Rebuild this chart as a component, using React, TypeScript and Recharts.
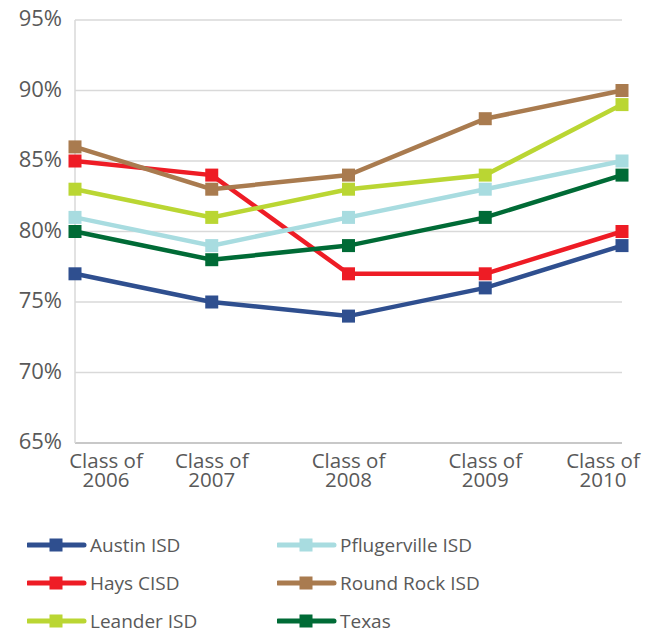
import React from "react";
import { LineChart, Line, XAxis, YAxis, CartesianGrid, Legend } from "recharts";

const categories = ["Class of 2006", "Class of 2007", "Class of 2008", "Class of 2009", "Class of 2010"];
const austin = [77, 75, 74, 76, 79];
const hays = [85, 84, 77, 77, 80];
const leander = [83, 81, 83, 84, 89];
const pflugerville = [81, 79, 81, 83, 85];
const roundRock = [86, 83, 84, 88, 90];
const texas = [80, 78, 79, 81, 84];
const yTicks = [65, 70, 75, 80, 85, 90, 95];

const series = [
  { key: "austin", name: "Austin ISD", color: "#2F4F8F", values: austin },
  { key: "hays", name: "Hays CISD", color: "#EE1C25", values: hays },
  { key: "leander", name: "Leander ISD", color: "#BAD633", values: leander },
  { key: "pflugerville", name: "Pflugerville ISD", color: "#A8DCE0", values: pflugerville },
  { key: "roundRock", name: "Round Rock ISD", color: "#A97B4F", values: roundRock },
  { key: "texas", name: "Texas", color: "#006B36", values: texas },
];

const data = categories.map((c, i) => {
  const row: any = { cat: c };
  series.forEach((s) => (row[s.key] = s.values[i]));
  return row;
});

const FONT = "'Open Sans', sans-serif";
const TEXT = "#595959";

const SquareDot = (color: string) => (props: any) => {
  const { cx, cy } = props;
  if (cx == null || cy == null) return null;
  return <rect x={cx - 6.5} y={cy - 6.5} width={13} height={13} fill={color} />;
};

const XTick = (props: any) => {
  const { x, y, payload, index } = props;
  const parts = String(payload.value).split(" ");
  const l1 = parts.slice(0, 2).join(" ");
  const l2 = parts.slice(2).join(" ");
  const n = categories.length;
  const cx = index === 0 ? x + 31 : index === n - 1 ? x - 19 : x;
  return (
    <text x={cx} y={y} textAnchor="middle" fill={TEXT} fontFamily={FONT} fontSize={20.5}>
      <tspan x={cx} dy={17}>{l1}</tspan>
      <tspan x={cx} dy={19}>{l2}</tspan>
    </text>
  );
};

const YTick = (props: any) => {
  const { x, y, payload } = props;
  return (
    <text x={x} y={y} textAnchor="end" dy={6} fill={TEXT} fontFamily={FONT} fontSize={22}>
      {payload.value}%
    </text>
  );
};

const LegendContent = () => {
  const order = [
    [series[0], series[3]],
    [series[1], series[4]],
    [series[2], series[5]],
  ];
  return (
    <div style={{ height: 139, position: "relative", width: 655 }}>
      {order.map((row, r) =>
        row.map((s, c) => (
          <div
            key={s.key}
            style={{
              position: "absolute",
              left: c === 0 ? 27 : 277,
              top: 41 + r * 38,
              display: "flex",
              alignItems: "center",
              height: 22,
            }}
          >
            <svg width={60} height={14} style={{ display: "block" }}>
              <line x1={1.5} y1={7} x2={57} y2={7} stroke={s.color} strokeWidth={5} strokeLinecap="round" />
              <rect x={22.5} y={0.5} width={13} height={13} fill={s.color} />
            </svg>
            <span
              style={{
                fontFamily: FONT,
                fontSize: 19,
                lineHeight: "22px",
                color: TEXT,
                marginLeft: 3,
                whiteSpace: "nowrap",
              }}
            >
              {s.name}
            </span>
          </div>
        ))
      )}
    </div>
  );
};

export default function App() {
  return (
    <div style={{ position: "absolute", left: 0, top: 0, width: 655, height: 632, background: "#fff" }}>
      <LineChart width={655} height={632} data={data} margin={{ top: 20, right: 33, left: 0, bottom: 0 }}>
        <CartesianGrid vertical={false} stroke="#d9d9d9" strokeWidth={1.5} />
        <XAxis
          dataKey="cat"
          height={50}
          padding={{ left: 0, right: 0 }}
          interval={0}
          tickLine={false}
          axisLine={{ stroke: "#c8c8c8", strokeWidth: 2 }}
          tick={<XTick />}
        />
        <YAxis
          domain={[65, 95]}
          ticks={yTicks}
          width={75}
          tickLine={false}
          tickMargin={7}
          axisLine={{ stroke: "#d9d9d9", strokeWidth: 1.5 }}
          tick={<YTick />}
        />
        <Legend
          verticalAlign="bottom"
          content={<LegendContent />}
          wrapperStyle={{ left: 0, bottom: 0, width: 655, height: 139 }}
        />
        {series.map((s) => (
          <Line
            key={s.key}
            dataKey={s.key}
            name={s.name}
            stroke={s.color}
            strokeWidth={4.5}
            dot={SquareDot(s.color)}
            activeDot={false}
            isAnimationActive={false}
          />
        ))}
      </LineChart>
    </div>
  );
}
